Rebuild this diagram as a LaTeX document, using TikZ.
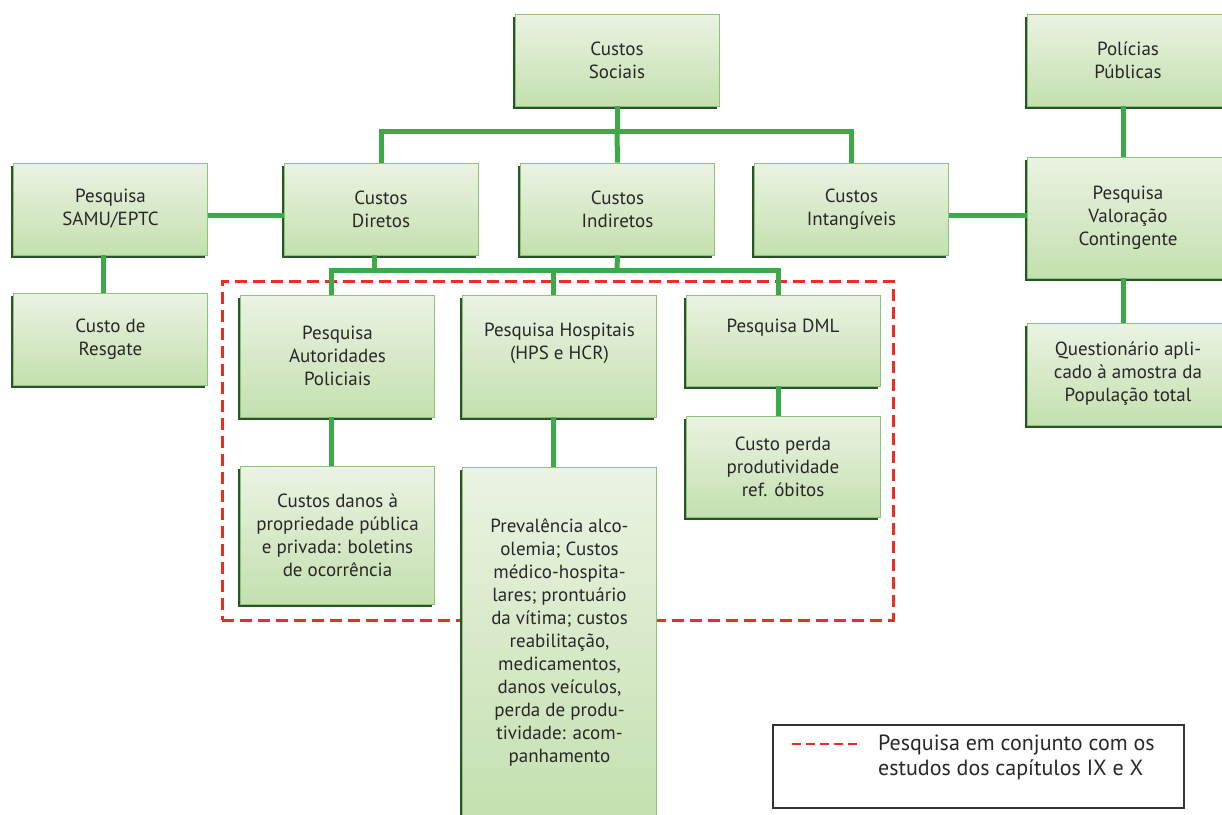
\documentclass[tikz,border=0pt]{standalone}
\usepackage{fontspec}
\setmainfont{PT Sans}
\usetikzlibrary{shadows}
\definecolor{boxtop}{RGB}{235,243,227}
\definecolor{boxbot}{RGB}{196,224,175}
\definecolor{boxedge}{RGB}{140,195,120}
\definecolor{boxshade}{RGB}{40,85,38}
\definecolor{linkgreen}{RGB}{60,170,72}
\definecolor{dashred}{RGB}{236,45,35}
\definecolor{ink}{RGB}{40,40,40}

\begin{document}
\begin{tikzpicture}[
  x=1pt,y=-1pt,
  font=\fontsize{19}{23}\selectfont,
  every node/.style={align=center,inner sep=0pt,text=ink},
  box/.style={draw=boxedge,line width=0.7pt,top color=boxtop,bottom color=boxbot,
    drop shadow={shadow xshift=-2.5pt,shadow yshift=-2.5pt,opacity=1,fill=boxshade},
    minimum width=194pt,minimum height=92pt},
  link/.style={draw=linkgreen,line width=5pt},
  zone/.style={draw=dashred,line width=3pt,dash pattern=on 12pt off 6pt},
  ]
  \useasboundingbox[fill=white] (0,0) rectangle (1222,814);
  \node[zone,minimum width=671pt,minimum height=339pt] (grp) at (557.5,450.5) {};

  \node[box,minimum width=204pt] (soc) at (617,60) {Custos\\Sociais};
  \node[box,minimum width=202pt] (pol) at (1128,60) {Polícias\\Públicas};
  \node[box] (samu) at (110.5,209) {Pesquisa\\SAMU/EPTC};
  \node[box] (dir) at (381,209) {Custos\\Diretos};
  \node[box] (ind) at (617.5,209) {Custos\\Indiretos};
  \node[box] (int) at (851.5,209) {Custos\\Intangíveis};
  \node[box,minimum width=202pt,minimum height=121pt] (val) at (1128,217.5) {Pesquisa\\Valoração\\Contingente};
  \node[box] (resg) at (110.5,339) {Custo de\\Resgate};
  \node[box,minimum height=122pt] (aut) at (337.5,356) {Pesquisa\\Autoridades\\Policiais};
  \node[box,minimum height=122pt] (hosp) at (559.5,356) {Pesquisa Hospitais\\(HPS e HCR)\\\strut};
  \node[box,minimum height=91pt] (dml) at (783,340.5) {Pesquisa DML\\\strut};
  \node[box,minimum height=138pt] (danos) at (337.5,535) {Custos danos à\\propriedade pública\\e privada: boletins\\de ocorrência};
  \node[box,minimum height=101pt] (perda) at (783,466.5) {Custo perda\\produtividade\\ref. óbitos};
  \node[box,minimum width=202pt,minimum height=102pt] (quest) at (1128,374) {Questionário apli-\\cado à amostra da\\População total};
  \node[box,minimum height=350pt] (prev) at (559.5,642) {Prevalência alco-\\olemia; Custos\\médico-hospita-\\lares; prontuário\\da vítima; custos\\reabilitação,\\medicamentos,\\danos veículos,\\perda de produ-\\tividade: acom-\\panhamento};

  \coordinate (j1) at (617,131);
  \coordinate (j2) at (617,270);
  \draw[link] (soc.south) -- (j1);
  \draw[link] (dir.north) |- (j1) -| (int.north);
  \draw[link] (j1) -- (ind.north);
  \draw[link] ([xshift=-7pt]dir.south) -- ([xshift=-7pt]dir.south |- j2);
  \draw[link] (ind.south) -- (j2);
  \draw[link] ([xshift=-6pt]aut.north) |- (j2) -| ([xshift=-5pt]dml.north);
  \draw[link] ([xshift=-6pt]hosp.north) -- ([xshift=-6pt]hosp.north |- j2);
  \draw[link] ([yshift=-6pt]samu.east) -- ([yshift=-6pt]samu.east -| dir.west);
  \draw[link] ([yshift=-6pt]int.east) -- ([yshift=-6pt]int.east -| val.west);
  \draw[link] ([xshift=-5pt]pol.south) -- ([xshift=-5pt]pol.south |- val.north);
  \draw[link] ([xshift=-5pt]val.south) -- ([xshift=-5pt]val.south |- quest.north);
  \draw[link] ([xshift=-7pt]samu.south) -- ([xshift=-7pt]samu.south |- resg.north);
  \draw[link] ([xshift=-6pt]aut.south) -- ([xshift=-6pt]aut.south |- danos.north);
  \draw[link] ([xshift=-6pt]hosp.south) -- ([xshift=-6pt]hosp.south |- prev.north);
  \draw[link] ([xshift=-5pt]dml.south) -- ([xshift=-5pt]dml.south |- perda.north);

  \node[draw=black!80,line width=1.5pt,minimum width=411pt,minimum height=83pt] (leg) at (978.5,766.5) {};
  \node[anchor=north west,align=left,font=\fontsize{22}{24.5}\selectfont] (legtxt) at (878,735) {Pesquisa em conjunto com os\\estudos dos capítulos IX e X};
  \draw[draw=dashred,line width=2pt,dash pattern=on 9pt off 5pt] ([xshift=20pt,yshift=-20pt]leg.north west) -- ++(69,0);
\end{tikzpicture}
\end{document}
